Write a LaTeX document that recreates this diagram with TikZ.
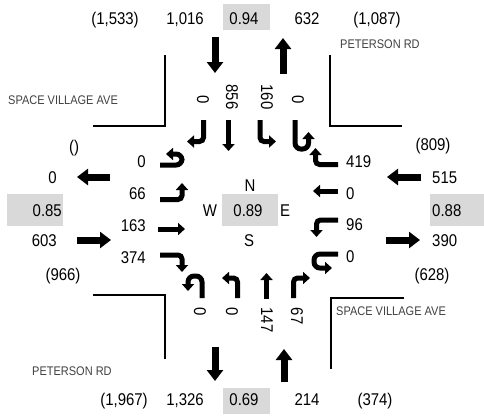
\documentclass[tikz,border=0pt]{standalone}
\usepackage{fontspec}
\setmainfont{Liberation Sans}[FakeStretch=0.88]
\usetikzlibrary{arrows.meta}
\definecolor{boxgray}{HTML}{D9D9D9}
\definecolor{roadtxt}{HTML}{404040}
\begin{document}
\begin{tikzpicture}[x=1pt,y=-1pt,
  num/.style={inner sep=0pt,font=\fontsize{17}{18}\selectfont,text height=12pt,text depth=0pt},
  rnum/.style={num,rotate=-90},
  road/.style={inner sep=0pt,font=\fontsize{12.5}{13}\selectfont,text=roadtxt,text height=9pt,text depth=0pt},
  bigarrow/.style={line width=7pt,-{Triangle[width=16pt,length=11pt]}},
  turn/.style={line width=5pt,-{Triangle[width=12pt,length=7pt]},rounded corners=4pt},
  uturn/.style={line width=5pt,-{Triangle[width=12pt,length=7pt]},rounded corners=6pt},
  curb/.style={line width=1.5pt}]
\useasboundingbox (0,0) rectangle (484,416);

% gray boxes
\fill[boxgray] (223,4) rectangle (270,30);
\fill[boxgray] (223,388) rectangle (270,414);
\fill[boxgray] (7,194) rectangle (63,226);
\fill[boxgray] (430,194) rectangle (484,226);
\fill[boxgray] (222,194) rectangle (278,226);

% curb lines
\draw[curb] (93,126) -- (165,126) -- (165,55);
\draw[curb] (330,55) -- (330,126) -- (402,126);
\draw[curb] (93,295) -- (165,295) -- (165,359);
\draw[curb] (404,298) -- (331,298) -- (331,369);

% road names
\node[road,anchor=west] (rw) at (8,100) {SPACE VILLAGE AVE};
\node[road,anchor=west] (rn) at (340,44) {PETERSON RD};
\node[road,anchor=west] (re) at (336,311) {SPACE VILLAGE AVE};
\node[road,anchor=west] (rs) at (32,371) {PETERSON RD};

% top row
\node[num] (t1) at (115,18) {(1,533)};
\node[num] (t2) at (185,18) {1,016};
\node[num] (t3) at (244,18) {0.94};
\node[num] (t4) at (307,18) {632};
\node[num] (t5) at (377,18) {(1,087)};

% bottom row
\node[num] (b1) at (124,399) {(1,967)};
\node[num] (b2) at (185,399) {1,326};
\node[num] (b3) at (244,399) {0.69};
\node[num] (b4) at (307,399) {214};
\node[num] (b5) at (375,399) {(374)};

% left side
\node[num] (l1) at (74,146) {()};
\node[num,anchor=east] (l2) at (57,177) {0};
\node[num,anchor=east] (l3) at (62,210) {0.85};
\node[num,anchor=east] (l4) at (57,240) {603};
\node[num] (l5) at (63,274) {(966)};

% right side
\node[num] (r1) at (433,144) {(809)};
\node[num,anchor=west] (r2) at (432,177) {515};
\node[num,anchor=west] (r3) at (432,210) {0.88};
\node[num,anchor=west] (r4) at (432,240) {390};
\node[num] (r5) at (432,274) {(628)};

% center
\node[num] (cn) at (250,185) {N};
\node[num] (cw) at (210,210) {W};
\node[num] (cc) at (248,210) {0.89};
\node[num] (ce) at (285,210) {E};
\node[num] (cs) at (249,240) {S};

% west approach labels
\node[num,anchor=east] (wu) at (146,161) {0};
\node[num,anchor=east] (wl) at (146,193) {66};
\node[num,anchor=east] (wt) at (146,225) {163};
\node[num,anchor=east] (wr) at (146,257) {374};

% east approach labels
\node[num,anchor=west] (er) at (346,161) {419};
\node[num,anchor=west] (et) at (346,193) {0};
\node[num,anchor=west] (el) at (346,224) {96};
\node[num,anchor=west] (eu) at (346,256) {0};

% north approach labels
\node[rnum] (nr) at (203,100) {0};
\node[rnum] (nt) at (232,97) {856};
\node[rnum] (nl) at (267,97) {160};
\node[rnum] (nu) at (298,100) {0};

% south approach labels
\node[rnum] (su) at (200,312) {0};
\node[rnum] (sl) at (232,312) {0};
\node[rnum] (st) at (267,320) {147};
\node[rnum] (sr) at (297,316) {67};

% big approach/departure arrows
\draw[bigarrow] (215,37) -- (215,73);
\draw[bigarrow] (283,74) -- (283,38);
\draw[bigarrow] (215,347) -- (215,381);
\draw[bigarrow] (284,382) -- (284,349);
\draw[bigarrow] (110,177) -- (77,177);
\draw[bigarrow] (77,240) -- (111,240);
\draw[bigarrow] (386,240) -- (420,240);
\draw[bigarrow] (421,177) -- (387,177);

% southbound (top) movements
\draw[turn] (203.5,120) -- (203.5,141.5) -- (187,141.5);
\draw[turn] (228.5,120) -- (228.5,151);
\draw[turn] (260,120) -- (260,141.5) -- (276,141.5);
\draw[uturn] (295,120) -- (295,149) -- (308.5,149) -- (308.5,132);

% northbound (bottom) movements
\draw[uturn] (202,298) -- (202,276) -- (188,276) -- (188,291);
\draw[turn] (237.5,298) -- (237.5,278) -- (222,278);
\draw[turn] (266.5,299) -- (266.5,273);
\draw[turn] (293.5,298) -- (293.5,278) -- (310,278);

% eastbound (left) movements
\draw[uturn] (160,165) -- (182,165) -- (182,154) -- (166,154);
\draw[turn] (160,199.5) -- (182,199.5) -- (182,183);
\draw[turn] (158,229) -- (185,229);
\draw[turn] (160,255) -- (182,255) -- (182,272);

% westbound (right) movements
\draw[turn] (338,164.5) -- (315.5,164.5) -- (315.5,148);
\draw[turn] (338,191) -- (313,191);
\draw[turn] (338,220) -- (316.5,220) -- (316.5,237);
\draw[uturn] (338,254) -- (314,254) -- (314,268) -- (332,268);
\end{tikzpicture}
\end{document}
